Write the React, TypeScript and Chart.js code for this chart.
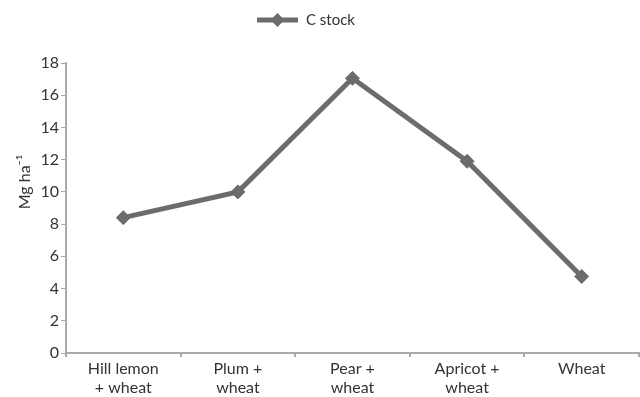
import React, { useEffect, useRef } from "react";
import { Chart, registerables } from "chart.js";

Chart.register(...registerables);

const categories: string[][] = [
  ["Hill lemon", "+ wheat"],
  ["Plum +", "wheat"],
  ["Pear +", "wheat"],
  ["Apricot +", "wheat"],
  ["Wheat"],
];
const cStock: number[] = [8.4, 10.0, 17.05, 11.9, 4.75];
const seriesName = "C stock";
const yTitle = "Mg ha⁻¹";
const yMin = 0;
const yMax = 18;
const yStep = 2;

const LINE = "#6b6d6d";
const AXIS = "#a9a9a9";
const TEXT = "#333333";
const FONT = "Lato, 'Open Sans', sans-serif";

const overlay = {
  id: "overlay",
  afterDraw(chart: any) {
    const ctx = chart.ctx as CanvasRenderingContext2D;
    ctx.save();
    // legend
    const ly = 20;
    ctx.strokeStyle = LINE;
    ctx.lineWidth = 5;
    ctx.beginPath();
    ctx.moveTo(257, ly);
    ctx.lineTo(298, ly);
    ctx.stroke();
    ctx.fillStyle = LINE;
    ctx.beginPath();
    const cx = 277.5, r = 7;
    ctx.moveTo(cx - r, ly);
    ctx.lineTo(cx, ly - r);
    ctx.lineTo(cx + r, ly);
    ctx.lineTo(cx, ly + r);
    ctx.closePath();
    ctx.fill();
    ctx.fillStyle = TEXT;
    ctx.font = `15px ${FONT}`;
    ctx.textBaseline = "middle";
    ctx.textAlign = "left";
    ctx.fillText(seriesName, 306, ly);
    // y title
    ctx.translate(25, 182);
    ctx.rotate(-Math.PI / 2);
    ctx.textAlign = "center";
    ctx.font = `16px ${FONT}`;
    ctx.fillText(yTitle, 0, 0);
    ctx.restore();
  },
};

export default function App() {
  const ref = useRef<HTMLCanvasElement | null>(null);
  useEffect(() => {
    if (!ref.current) return;
    const chart = new Chart(ref.current, {
      type: "line",
      data: {
        labels: categories as any,
        datasets: [
          {
            label: seriesName,
            data: cStock,
            borderColor: LINE,
            backgroundColor: LINE,
            borderWidth: 5,
            pointStyle: "rectRot",
            pointRadius: 7,
            pointBorderWidth: 1,
            pointBackgroundColor: LINE,
            pointBorderColor: LINE,
            tension: 0,
          },
        ],
      },
      options: {
        animation: false,
        responsive: false,
        layout: { autoPadding: false, padding: { top: 63, right: 1, left: 0, bottom: 0 } },
        plugins: {
          legend: { display: false },
          tooltip: { enabled: false },
        },
        scales: {
          x: {
            offset: true,
            grid: {
              offset: true,
              drawOnChartArea: false,
              drawTicks: true,
              tickLength: 4,
              color: AXIS,
              lineWidth: 2,
            },
            border: { color: AXIS, width: 2 },
            ticks: {
              color: TEXT,
              font: { family: FONT, size: 16, lineHeight: 1.15 },
              padding: 3,
              maxRotation: 0,
              autoSkip: false,
            },
            afterFit: (s: any) => {
              s.height = 44;
              s.paddingLeft = 0;
              s.paddingRight = 0;
            },
          },
          y: {
            min: yMin,
            max: yMax,
            ticks: {
              stepSize: yStep,
              color: TEXT,
              font: { family: FONT, size: 16 },
              padding: 2,
            },
            grid: {
              drawOnChartArea: false,
              drawTicks: true,
              tickLength: 5,
              color: AXIS,
              lineWidth: 1,
            },
            border: { color: AXIS, width: 2 },
            afterFit: (s: any) => {
              s.width = 66;
              s.paddingTop = 0;
              s.paddingBottom = 0;
            },
          },
        },
      },
      plugins: [overlay],
    });
    return () => chart.destroy();
  }, []);
  return (
    <div style={{ position: "fixed", left: 0, top: 0, width: 640, height: 397, background: "#fff" }}>
      <canvas ref={ref} width={640} height={397} style={{ width: 640, height: 397 }} />
    </div>
  );
}
